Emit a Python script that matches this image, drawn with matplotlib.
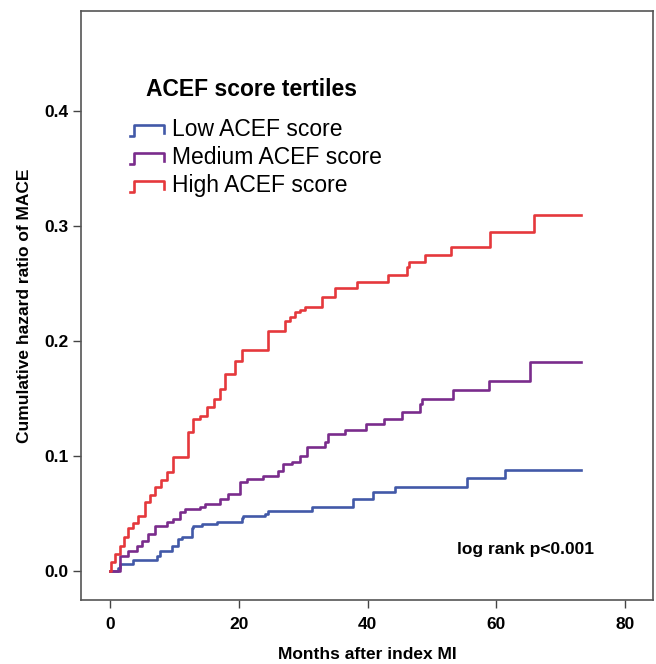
import matplotlib
matplotlib.use("Agg")
import matplotlib.pyplot as plt
from matplotlib.lines import Line2D
from matplotlib.legend_handler import HandlerBase

# 누적 위험 (step) 데이터 - 그림에서 읽은 값
low_t = [0, 1.2, 1.55, 3.6, 7.3, 7.8, 9.6, 10.6, 11.2, 12.8, 12.9, 14.3, 16.6, 20.5, 20.7,
         24.1, 24.6, 31.4, 37.8, 40.9, 44.3, 55.5, 61.4, 73.1]
low_v = [0, 0.003, 0.006, 0.010, 0.013, 0.017, 0.022, 0.028, 0.030, 0.037, 0.039, 0.041, 0.043,
         0.046, 0.048, 0.050, 0.052, 0.056, 0.063, 0.069, 0.073, 0.081, 0.088, 0.088]

med_t = [0, 1.55, 2.8, 4.2, 5.0, 5.9, 7.0, 8.9, 9.8, 10.9, 11.7, 14.0, 14.8, 17.1, 18.4, 20.2,
         21.3, 23.8, 26.1, 26.9, 28.3, 29.5, 30.6, 33.4, 33.9, 36.5, 39.7, 42.5, 45.4, 48.2,
         48.5, 53.3, 58.8, 65.3, 73.1]
med_v = [0, 0.013, 0.017, 0.022, 0.026, 0.032, 0.039, 0.043, 0.045, 0.051, 0.054, 0.056, 0.058,
         0.063, 0.067, 0.077, 0.080, 0.083, 0.087, 0.093, 0.095, 0.100, 0.108, 0.112, 0.119,
         0.123, 0.128, 0.132, 0.138, 0.145, 0.150, 0.157, 0.165, 0.182, 0.182]

high_t = [0, 0.15, 0.8, 1.55, 2.2, 2.8, 3.6, 4.35, 5.4, 6.2, 7.0, 8.0, 8.9, 9.8, 12.1, 12.9, 14.0,
          15.1, 16.2, 17.1, 17.9, 19.4, 20.5, 24.6, 27.2, 28.0, 28.8, 29.5, 30.3, 33.0, 35.0,
          38.4, 43.2, 46.2, 46.5, 49.0, 52.9, 59.1, 65.8, 73.1]
high_v = [0, 0.008, 0.015, 0.022, 0.030, 0.037, 0.042, 0.048, 0.060, 0.066, 0.073, 0.079, 0.086,
          0.099, 0.121, 0.132, 0.135, 0.143, 0.150, 0.158, 0.171, 0.183, 0.192, 0.209, 0.217,
          0.221, 0.225, 0.227, 0.230, 0.238, 0.246, 0.251, 0.257, 0.264, 0.269, 0.275, 0.282,
          0.295, 0.310, 0.310]

labels = ["Low ACEF score", "Medium ACEF score", "High ACEF score"]
colors = ["#4259a8", "#7a2c8c", "#e5383c"]

x_ticks = [0, 20, 40, 60, 80]
y_ticks = [0.0, 0.1, 0.2, 0.3, 0.4]

font = "Liberation Sans"


class StepHandler(HandlerBase):
    # 범례에 계단 모양 기호
    def create_artists(self, legend, orig, xd, yd, w, h, fontsize, trans):
        x = [xd, xd + 0.12 * w, xd + 0.12 * w, xd + w, xd + w]
        y = [yd + 0.1 * h, yd + 0.1 * h, yd + 0.9 * h, yd + 0.9 * h, yd + 0.35 * h]
        ln = Line2D(x, y, color=orig.get_color(), lw=orig.get_linewidth(), transform=trans)
        return [ln]


fig = plt.figure(figsize=(6.56, 6.64), dpi=100)
ax = fig.add_axes([0.1235, 0.0964, 0.872, 0.887])

lines = []
for t, v, c in zip([low_t, med_t, high_t], [low_v, med_v, high_v], colors):
    l, = ax.step(t, v, where="post", color=c, lw=1.9)
    lines.append(l)

ax.set_xlim(-4.5, 84.35)
ax.set_ylim(-0.0252, 0.487)
ax.set_xticks(x_ticks)
ax.set_yticks(y_ticks)
ax.set_xticklabels([str(x) for x in x_ticks], family=font, fontweight="bold", fontsize=12.5)
ax.set_yticklabels(["%.1f" % y for y in y_ticks], family=font, fontweight="bold", fontsize=12.5)
ax.tick_params(axis="x", direction="out", length=6, width=1, color="#444444", pad=6)
ax.tick_params(axis="y", direction="out", length=6, width=1, color="#444444", pad=3)

for s in ax.spines.values():
    s.set_color("#555555")
    s.set_linewidth(1.2)

ax.set_xlabel("Months after index MI", family=font, fontweight="bold", fontsize=12.5, labelpad=11)
ax.set_ylabel("Cumulative hazard ratio of MACE", family=font, fontweight="bold", fontsize=12.5,
              labelpad=9)

ax.text(64.5, 0.019, "log rank p<0.001", family=font, fontweight="bold", fontsize=12.5,
        ha="center", va="center")

# 범례 제목은 따로 텍스트로
ax.text(0.298, 0.867, "ACEF score tertiles", transform=ax.transAxes, family=font,
        fontweight="bold", fontsize=16.5, ha="center", va="center")
leg = ax.legend(lines, labels, handler_map={Line2D: StepHandler()},
                loc="upper left", bbox_to_anchor=(0.085, 0.818), frameon=False,
                prop={"family": font, "size": 16.5},
                handlelength=1.5, handleheight=0.55, handletextpad=0.35,
                labelspacing=0.22, borderaxespad=0, borderpad=0)

fig.savefig("out.png", dpi=100)
